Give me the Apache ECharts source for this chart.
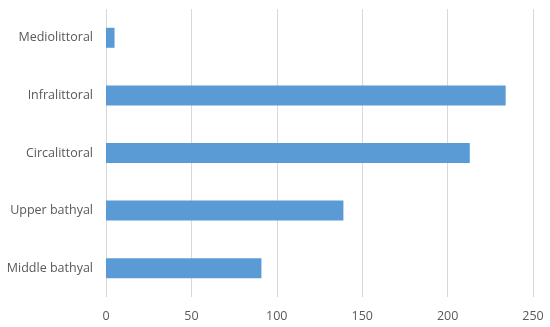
<!DOCTYPE html>
<html>
<head>
<meta charset="utf-8">
<script src="https://cdn.jsdelivr.net/npm/echarts@6/dist/echarts.min.js"></script>
<style>
  html, body { margin: 0; padding: 0; background: #ffffff; }
  #chart { width: 550px; height: 327px; }
</style>
</head>
<body>
<div id="chart"></div>
<script>
// zones, top to bottom
var zones = ["Mediolittoral", "Infralittoral", "Circalittoral", "Upper bathyal", "Middle bathyal"];
var counts = [5, 234, 213, 139, 91];
var xTicks = [0, 50, 100, 150, 200, 250];

var myChart = echarts.init(document.getElementById("chart"));
var option = {
  animation: false,
  grid: {
    left: 106,
    right: 17,
    top: 9,
    bottom: 30
  },
  xAxis: {
    type: "value",
    min: xTicks[0],
    max: xTicks[xTicks.length - 1],
    interval: 50,
    axisLine: { show: false },
    axisTick: { show: false },
    axisLabel: {
      color: "#595959",
      fontFamily: "Open Sans",
      fontSize: 12.5,
      margin: 13
    },
    splitLine: { lineStyle: { color: "#d9d9d9", width: 1 } }
  },
  yAxis: {
    type: "category",
    inverse: true,
    data: zones,
    axisLine: { show: false },
    axisTick: { show: false },
    axisLabel: {
      color: "#595959",
      fontFamily: "Open Sans",
      fontSize: 12.5,
      margin: 13
    }
  },
  series: [
    {
      type: "bar",
      data: counts,
      barWidth: 20,
      itemStyle: { color: "#5b9bd5" }
    }
  ]
};
myChart.setOption(option);
</script>
</body>
</html>
